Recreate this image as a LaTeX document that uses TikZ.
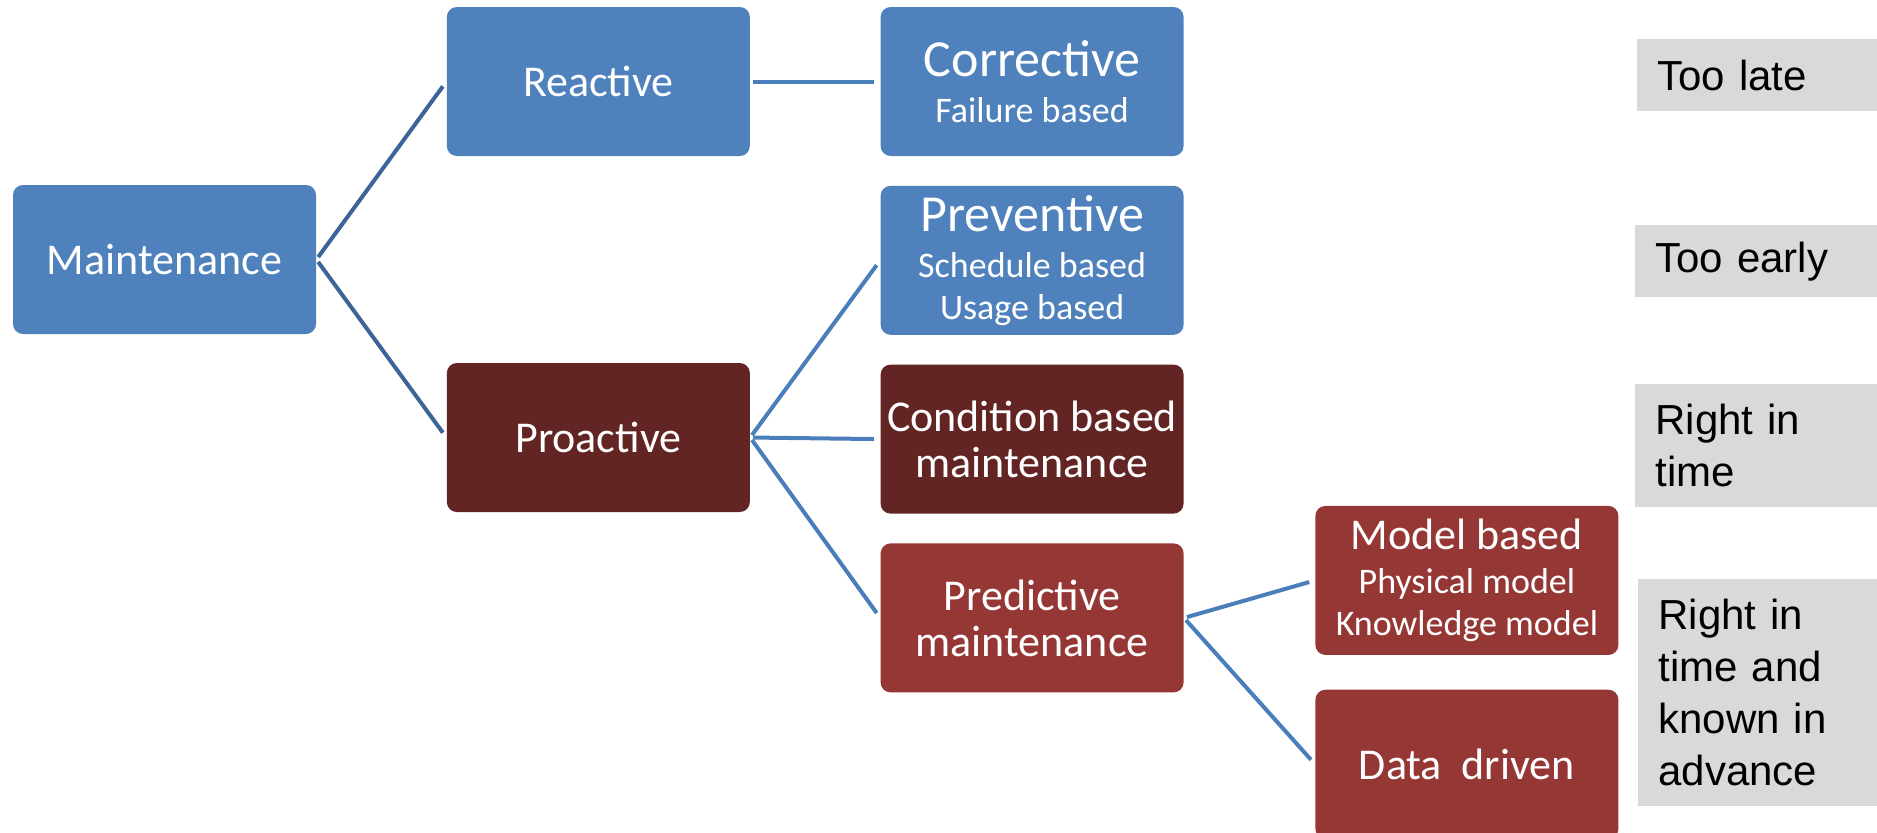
\documentclass[tikz,border=0pt]{standalone}
\usepackage{fontspec}
\setmainfont{Carlito}
\newfontfamily\notefont{Liberation Sans}
\usetikzlibrary{positioning}

\definecolor{stageblue}{HTML}{4F81BD}
\definecolor{stagedark}{HTML}{632523}
\definecolor{stagered}{HTML}{953735}
\definecolor{linkblue}{HTML}{4A7EBB}
\definecolor{linkdark}{HTML}{3C6499}
\definecolor{notegray}{HTML}{D9D9D9}

\newcommand{\bigline}[1]{{\fontsize{26}{28}\selectfont #1}}

\tikzset{
  stage/.style={rectangle, rounded corners=5pt, minimum width=151.5pt,
    minimum height=74.5pt, inner sep=1pt, text=white, align=center,
    font=\fontsize{22}{23}\selectfont},
  small/.style={font=\fontsize{18}{21}\selectfont},
  note/.style={fill=notegray, anchor=north west, inner xsep=10pt,
    inner ysep=0pt, text width=110pt, align=left,
    font=\notefont\fontsize{21}{26}\selectfont},
  link/.style={draw=linkblue, line width=2pt, shorten <=1.5pt, shorten >=3pt},
}

\begin{document}
\begin{tikzpicture}[x=0.5pt, y=-0.5pt]
    \useasboundingbox (0,0) rectangle (1877,832);

    \node[stage, fill=stageblue] (maint) at (164.5,259.5) {Maintenance};
    \node[stage, fill=stageblue, right=65pt of maint, yshift=89pt] (reactive) {Reactive};
    \node[stage, fill=stagedark, right=65pt of maint, yshift=-89pt] (proactive) {Proactive};

    \node[stage, small, fill=stageblue, right=65pt of reactive] (corrective)
    {\bigline{Corrective}\\[2pt] Failure based};
    \node[stage, small, fill=stageblue, below=14.5pt of corrective] (preventive)
    {\bigline{Preventive}\\[2pt] Schedule based\\ Usage based};
    \node[stage, fill=stagedark, below=14.5pt of preventive] (condition)
    {Condition based\\ maintenance};
    \node[stage, fill=stagered, below=14.5pt of condition] (predictive)
    {Predictive\\ maintenance};

    \node[stage, small, fill=stagered, right=65.5pt of predictive, yshift=18.75pt] (model)
    {{\fontsize{22}{23}\selectfont Model based}\\[1pt] Physical model\\ Knowledge model};
    \node[stage, fill=stagered, below=17pt of model] (data) {Data\ \ driven};

    % time labels
    \node[note, minimum height=36pt] (late) at (1637,39) {Too late};
    \node[note, minimum height=36pt] (early) at (1635,225) {Too early};
    \node[note, minimum height=61.5pt] (intime) at (1635,384) {Right in\\ time};
    \node[note, minimum height=113.5pt] (advance) at (1638,579)
    {Right in\\ time and\\ known in\\ advance};

    \draw[link, draw=linkdark] (maint.east) -- (reactive.west);
    \draw[link, draw=linkdark] (maint.east) -- (proactive.west);
    \draw[link] (reactive.east) -- (corrective.west);
    \draw[link] (proactive.east) -- (preventive.west);
    \draw[link] (proactive.east) -- (condition.west);
    \draw[link] (proactive.east) -- (predictive.west);
    \draw[link] (predictive.east) -- (model.west);
    \draw[link] (predictive.east) -- (data.west);
\end{tikzpicture}
\end{document}
